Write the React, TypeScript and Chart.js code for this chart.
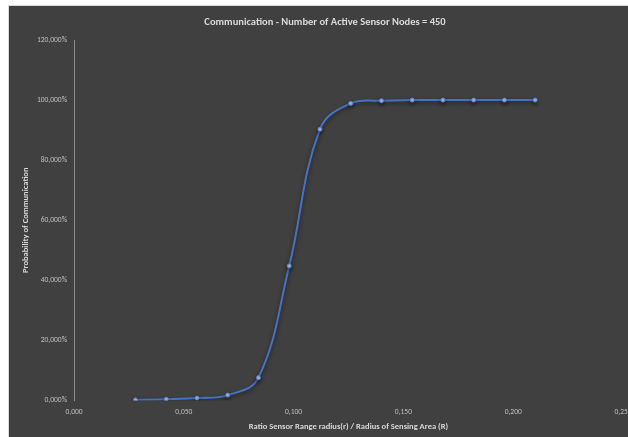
import React, { useEffect, useRef } from "react";
import { Chart, registerables } from "chart.js";

Chart.register(...registerables);

const chartTitle = "Communication - Number of Active Sensor Nodes = 450";
const xAxisTitle = "Ratio Sensor Range radius(r) / Radius of Sensing Area (R)";
const yAxisTitle = "Probability of Communication";

const ratioValues = [0.028, 0.042, 0.056, 0.07, 0.084, 0.098, 0.112, 0.126, 0.14, 0.154, 0.168, 0.182, 0.196, 0.21];
const probabilityValues = [0.2, 0.4, 0.8, 1.8, 7.6, 44.8, 90.3, 98.9, 99.8, 100, 100, 100, 100, 100];

const FONT = "Carlito, Lato, 'Open Sans', sans-serif";
const AXIS_TITLE_SIZE = 8.5;

const shadowPlugin = {
  id: "lineShadow",
  beforeDatasetsDraw(chart: any) {
    const ctx = chart.ctx;
    ctx.save();
    ctx.shadowColor = "rgba(0,0,0,0.55)";
    ctx.shadowBlur = 4;
    ctx.shadowOffsetX = 0;
    ctx.shadowOffsetY = 2;
  },
  afterDatasetsDraw(chart: any) {
    chart.ctx.restore();
  },
};

export default function App() {
  const canvasRef = useRef<HTMLCanvasElement | null>(null);

  useEffect(() => {
    if (!canvasRef.current) return;
    const points = ratioValues.map((x, i) => ({ x, y: probabilityValues[i] }));
    const half = (AXIS_TITLE_SIZE * 1.2) / 2;
    const chart = new Chart(canvasRef.current, {
      type: "scatter",
      data: {
        datasets: [
          {
            data: points,
            showLine: true,
            tension: 0.4,
            borderColor: "#4472c4",
            borderWidth: 2,
            pointRadius: 2,
            pointBorderWidth: 1,
            pointBackgroundColor: "#a4bde8",
            pointBorderColor: "#5b83cc",
            fill: false,
          },
        ],
      },
      options: {
        animation: false,
        responsive: false,
        devicePixelRatio: 1,
        layout: { padding: { left: 18, right: 46, top: 0, bottom: 0 } },
        plugins: {
          legend: { display: false },
          tooltip: { enabled: false },
          title: {
            display: true,
            text: chartTitle,
            color: "#d9d9d9",
            font: { family: FONT, size: 10.5, weight: "bold", lineHeight: 1.2 },
            padding: { top: 10, bottom: 11.4 },
          },
        },
        scales: {
          x: {
            type: "linear",
            min: 0,
            max: 0.25,
            afterFit: (s: any) => {
              s.height = 45.5;
            },
            ticks: {
              stepSize: 0.05,
              color: "#bfbfbf",
              padding: 7,
              font: { family: FONT, size: 7.5 },
              callback: (v: any) => Number(v).toFixed(3).replace(".", ","),
            },
            grid: { display: false, drawTicks: false },
            border: { display: false },
            title: {
              display: true,
              text: xAxisTitle,
              color: "#d9d9d9",
              font: { family: FONT, size: AXIS_TITLE_SIZE, weight: "bold", lineHeight: 1.2 },
              padding: { top: 0, bottom: 19 - half },
            },
          },
          y: {
            type: "linear",
            min: 0,
            max: 120,
            afterFit: (s: any) => {
              s.width = 47;
            },
            ticks: {
              stepSize: 20,
              color: "#bfbfbf",
              padding: 7,
              font: { family: FONT, size: 7.5 },
              callback: (v: any) => Number(v).toFixed(3).replace(".", ",") + "%",
            },
            grid: { display: false, drawTicks: false },
            border: { display: true, color: "#8c8c8c", width: 1 },
            title: {
              display: true,
              text: yAxisTitle,
              color: "#d9d9d9",
              font: { family: FONT, size: AXIS_TITLE_SIZE, weight: "bold", lineHeight: 1.2 },
              padding: { top: -half - 1, bottom: 0 },
            },
          },
        },
      },
      plugins: [shadowPlugin],
    });
    return () => chart.destroy();
  }, []);

  return (
    <div
      style={{
        position: "fixed",
        left: 0,
        top: 0,
        width: "100vw",
        height: "100vh",
        overflow: "hidden",
        background: "#ffffff",
      }}
    >
      <div
        style={{
          position: "absolute",
          left: 8,
          top: 5,
          width: 660,
          height: 440,
          border: "1px solid #d9d9d9",
          background: "#404040",
        }}
      >
        <canvas
          ref={canvasRef}
          width={660}
          height={440}
          style={{ display: "block", width: 660, height: 440 }}
        />
      </div>
    </div>
  );
}
